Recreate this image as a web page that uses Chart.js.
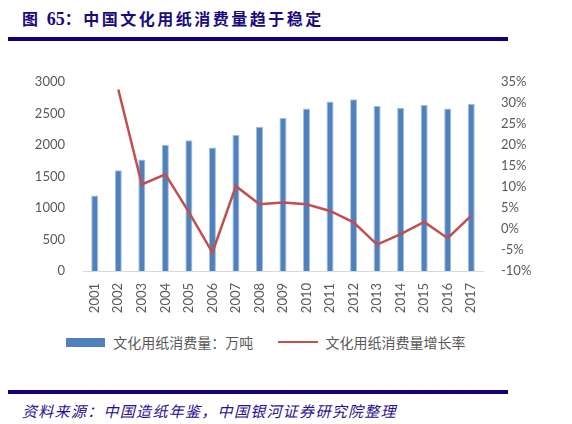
<!DOCTYPE html>
<html>
<head>
<meta charset="utf-8">
<script src="https://cdn.jsdelivr.net/npm/chart.js@4/dist/chart.umd.min.js"></script>
<style>
  body { margin:0; width:572px; height:424px; background:#fff; position:relative; overflow:hidden; }
  #title { position:absolute; left:22px; top:6px; font: bold 16px "Noto Sans CJK SC", sans-serif; color:#1a0a80; letter-spacing:2.5px; white-space:nowrap; }
  #title .num { font-family:"Liberation Serif", serif; font-size:18px; letter-spacing:0; }
  .rule { position:absolute; left:8px; width:500px; height:4px; background:#14007a; }
  #box { position:absolute; left:0; top:50px; width:540px; height:280px; }
  #legend { position:absolute; top:330px; left:66px; font: 14px "Noto Sans CJK SC", sans-serif; color:#595959; white-space:nowrap; }
  #legend span { display:inline-block; vertical-align:middle; }
  #source { position:absolute; left:22px; top:400px; font: italic 15px "Noto Sans CJK SC", sans-serif; color:#2a0f8f; letter-spacing:1.3px; white-space:nowrap; }
</style>
</head>
<body>
<div id="title">图 <span class="num">65</span>：中国文化用纸消费量趋于稳定</div>
<div class="rule" style="top:37px"></div>
<div id="box"><canvas id="chart"></canvas></div>
<div id="legend">
  <span style="width:39px;height:9px;background:#4f81bd"></span>
  <span style="margin-left:5px">文化用纸消费量：万吨</span>
  <span style="width:40px;height:2px;background:#c0504d;margin-left:22px"></span>
  <span style="margin-left:4px">文化用纸消费量增长率</span>
</div>
<div class="rule" style="top:390px"></div>
<div id="source">资料来源：中国造纸年鉴，中国银河证券研究院整理</div>

<script>
// 年份
var years = ['2001','2002','2003','2004','2005','2006','2007','2008','2009','2010','2011','2012','2013','2014','2015','2016','2017'];
// 消费量 (万吨)
var consumption = [1200, 1600, 1770, 2000, 2075, 1960, 2160, 2290, 2430, 2580, 2690, 2725, 2625, 2590, 2635, 2580, 2655];
// 增长率 (%)
var growth = [null, 33.2, 10.6, 13.0, 4.0, -5.6, 10.2, 5.9, 6.3, 5.9, 4.3, 1.6, -3.7, -1.2, 1.7, -2.2, 3.2];
// 坐标轴刻度
var leftMin = 0, leftMax = 3000, leftStep = 500;
var rightMin = -10, rightMax = 35, rightStep = 5;

var tickFont = { family: 'Lato, "Open Sans", sans-serif', size: 13 };

new Chart(document.getElementById('chart'), {
  type: 'bar',
  data: {
    labels: years,
    datasets: [{
      type: 'line',
      label: '文化用纸消费量增长率',
      data: growth,
      yAxisID: 'y1',
      borderColor: '#c0504d',
      borderWidth: 2.5,
      pointRadius: 0,
      tension: 0,
      order: 0
    }, {
      label: '文化用纸消费量：万吨',
      data: consumption,
      yAxisID: 'y',
      backgroundColor: '#4f81bd',
      borderColor: '#a7bfe0',
      borderWidth: { left: 1, right: 1, top: 1, bottom: 0 },
      barPercentage: 0.3,
      categoryPercentage: 1,
      order: 1
    }]
  },
  options: {
    responsive: true,
    maintainAspectRatio: false,
    animation: false,
    layout: { padding: { top: 32, left: 0, right: 0, bottom: 0 } },
    plugins: {
      legend: { display: false },
      tooltip: { enabled: false }
    },
    scales: {
      x: {
        grid: { display: false },
        border: { color: '#d9d9d9', width: 1 },
        ticks: { color: '#595959', font: tickFont, maxRotation: 90, minRotation: 90, padding: 4 },
        afterFit: function(s){ s.height = 59; }
      },
      y: {
        position: 'left',
        min: leftMin, max: leftMax,
        grid: { display: false },
        border: { display: false },
        ticks: { stepSize: leftStep, color: '#595959', font: tickFont, padding: 10,
          callback: function(v){ return String(v); } },
        afterFit: function(s){ s.width = 83; }
      },
      y1: {
        position: 'right',
        min: rightMin, max: rightMax,
        grid: { display: false },
        border: { display: false },
        ticks: { stepSize: rightStep, color: '#595959', font: tickFont, padding: 10,
          callback: function(v){ return v + '%'; } },
        afterFit: function(s){ s.width = 57; }
      }
    }
  }
});
</script>
</body>
</html>
